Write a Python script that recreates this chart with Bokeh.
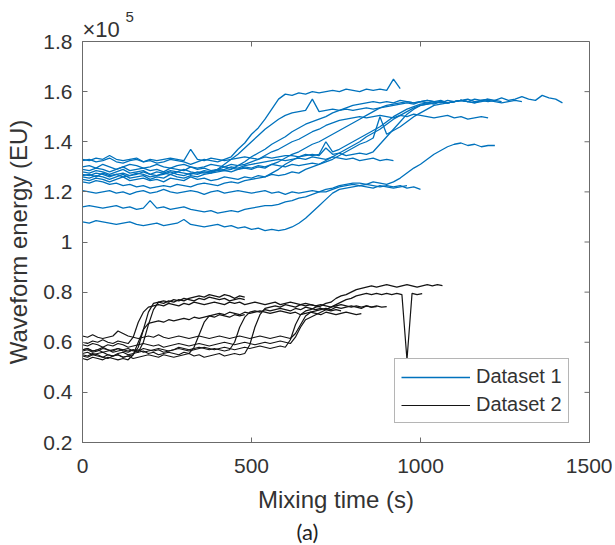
from bokeh.plotting import figure
from bokeh.models import Range1d, Title, Legend, LegendItem, FixedTicker
from bokeh.embed import file_html
from bokeh.resources import INLINE

# ---------------- data (values in units of 1e5 EU) ----------------
DT1 = 20   # sampling interval of dataset 1 (s)
DT2 = 15   # sampling interval of dataset 2 (s)

d1_a = [1.325,1.33,1.32,1.325,1.335,1.32,1.315,1.325,1.33,1.32,1.325,1.315,1.32,1.33,1.325,1.32,1.31,1.32,1.33,1.325,1.32,1.33,1.34,
        1.37,1.395,1.43,1.455,1.49,1.53,1.57,1.59,
        1.585,1.595,1.59,1.60,1.595,1.60,1.605,1.60,1.61,1.605,1.60,1.61,1.605,1.61,1.605,1.65,1.612]
d1_b = [1.26,1.255,1.265,1.26,1.25,1.26,1.27,1.255,1.26,1.265,1.25,1.26,1.255,1.27,1.26,1.255,1.265,1.26,1.27,1.275,
        1.29,1.31,1.33,1.35,1.375,1.40,1.425,1.45,1.47,1.49,1.505,1.515,
        1.52,1.525,1.57,1.52,1.525,1.53,1.525,1.53,1.525,1.53,1.535,1.53,1.535,1.54,1.545,1.55,1.555,1.55,1.56,1.555,1.56,1.565,1.555,1.56,1.565,1.56]
d1_c = [1.30,1.305,1.295,1.31,1.30,1.29,1.30,1.31,1.305,1.295,1.30,1.31,1.30,1.295,1.305,1.31,1.30,1.295,1.30,1.31,1.305,1.30,1.31,1.305,1.31,
        1.32,1.33,1.345,1.36,1.37,1.385,1.40,1.41,1.425,1.44,1.45,1.465,1.475,1.485,1.49,1.495,
        1.50,1.495,1.50,1.505,1.50,1.495,1.505,1.50,1.51,1.505,1.50,1.495,1.50,1.505,1.495,1.50,1.49,1.495,1.50,1.495]
d1_d = [1.28,1.275,1.285,1.28,1.27,1.28,1.29,1.275,1.28,1.285,1.27,1.28,1.275,1.285,1.28,1.29,1.28,1.275,1.285,1.28,1.29,1.285,1.28,1.29,1.295,1.29,1.30,1.295,
        1.31,1.32,1.335,1.35,1.36,1.375,1.39,1.40,1.415,1.43,1.445,1.46,1.475,1.49,1.505,1.52,1.535,1.545,
        1.55,1.555,1.56,1.555,1.56,1.565,1.56,1.555,1.565,1.56,1.565,1.57,1.56,1.565,1.57,1.565,1.575,1.565,1.57,1.58,1.57,1.565,1.585,1.575,1.57,1.555]
d1_e = [1.25,1.245,1.255,1.25,1.24,1.25,1.26,1.245,1.25,1.255,1.245,1.25,1.24,1.255,1.25,1.245,1.26,1.25,1.255,1.245,1.25,1.26,1.255,1.25,1.26,1.255,1.265,1.26,1.27,1.265,1.27,1.28,1.275,
        1.29,1.30,1.31,1.325,1.34,1.355,1.37,1.385,1.40,1.42,1.435,1.45,1.47,1.49,1.505,1.52,1.535,1.545,
        1.55,1.555,1.56,1.555,1.56,1.565,1.56,1.555,1.565,1.56,1.565,1.56]
d1_f = [1.33,1.325,1.335,1.33,1.345,1.33,1.325,1.33,1.335,1.32,1.33,1.325,1.33,1.335,1.33,1.325,1.37,1.33,1.325,1.335,1.33,1.325,1.33,1.335,1.34,1.335,1.33,1.34,1.335,1.34,1.345,
        1.345,1.34,1.35,1.345,1.35,1.40,1.36,1.37,1.385,1.40,1.415,1.43,1.445,1.46,1.48,1.50,1.515,1.53,1.54,1.55,
        1.555,1.55,1.56,1.555,1.56]
d1_g = [1.27,1.265,1.275,1.27,1.26,1.27,1.275,1.265,1.27,1.28,1.27,1.265,1.275,1.27,1.28,1.275,1.27,1.28,1.275,1.28,
        1.285,1.29,1.30,1.295,1.305,1.31,1.315,1.32,1.325,1.33,1.325,
        1.33,1.335,1.33,1.34,1.335,1.33,1.34,1.335,1.33,1.335,1.325,1.33,1.335,1.325,1.33,1.325]
d1_h = [1.29,1.285,1.295,1.29,1.28,1.29,1.30,1.285,1.29,1.295,1.285,1.29,1.28,1.295,1.29,1.285,1.30,1.29,1.295,1.285,1.29,1.30,1.295,1.29,1.30,1.295,1.305,1.30,1.31,1.305,1.30,1.31,1.305,1.31,1.315,1.31,
        1.32,1.33,1.345,1.36,1.375,1.39,1.40,1.415,1.50,1.43,1.445,1.46,1.48,1.50,1.515,1.53,1.545,
        1.55,1.555,1.56,1.565,1.56,1.57,1.565,1.57]
d1_i = [1.24,1.235,1.245,1.24,1.23,1.235,1.225,1.23,1.22,1.225,1.215,1.22,1.225,1.22,1.23,1.225,1.22,1.23,1.235,1.23,1.225,1.235,1.24,1.235,1.245,1.25,1.255,1.26,
        1.275,1.29,1.31,1.325,1.34,1.345,
        1.35,1.345,1.375,1.35,1.355,1.345,1.35,1.355,1.35,1.36,
        1.39,1.42,1.45,1.48,1.51,1.53,1.545,
        1.55,1.555,1.56,1.555,1.56,1.565,1.56,1.555,1.56,1.565,1.56,1.555,1.56,1.565,1.56]
d1_j = [1.205,1.20,1.195,1.20,1.205,1.195,1.20,1.19,1.20,1.205,1.195,1.20,1.21,1.20,1.195,1.20,1.205,1.20,1.19,1.20,1.205,1.195,1.20,1.205,1.20,1.195,1.20,1.205,1.195,1.20,1.19,1.20,1.195,1.20,1.205,1.20,1.20,
        1.21,1.22,1.225,1.23,1.225,1.23,1.225,1.22,1.225,1.22,1.225,1.215,1.22,1.21]
d1_k = [1.14,1.145,1.14,1.135,1.14,1.145,1.135,1.14,1.13,1.135,1.165,1.135,1.14,1.13,1.135,1.14,1.13,1.125,1.12,1.125,1.115,1.12,1.125,1.12,1.13,1.135,1.14,1.145,
        1.145,1.15,1.16,1.165,1.175,1.18,1.19,1.20,1.21,1.215,1.225,1.23,1.235,
        1.235,1.23,1.24,1.235,1.23,1.24,
        1.255,1.275,1.295,1.31,1.33,1.35,1.365,1.38,1.39,
        1.395,1.385,1.39,1.38,1.385,1.385]
d1_l = [1.08,1.075,1.085,1.08,1.075,1.07,1.075,1.08,1.07,1.065,1.07,1.075,1.065,1.07,1.075,1.09,1.07,1.065,1.06,1.065,1.07,1.06,1.065,1.055,1.06,1.05,1.055,1.045,1.05,1.045,1.05,
        1.06,1.075,1.095,1.12,1.145,1.17,1.195,1.21,
        1.215,1.22,1.225,1.22,1.215,1.225,1.22,1.215,1.22,1.225]
d1_m = [1.265,1.27,1.26,1.275,1.265,1.27,1.26,1.265,1.275,1.27,1.26,1.265,1.27,1.28,1.27,1.265,1.275,1.27,1.28,1.275,1.28,1.285,1.29,
        1.305,1.32,1.34,1.355,1.37,1.39,1.405,1.42,1.44,1.455,1.47,1.48,1.49,1.50,1.515,1.525,1.535,1.545,
        1.55,1.555,1.56,1.555,1.56,1.555,1.565,1.56,1.555,1.56,1.565,1.56]

d2_a = [0.55,0.545,0.555,0.55,0.54,0.55,0.545,0.55,0.54,0.545,0.55,
        0.58,0.65,0.72,0.755,
        0.76,0.755,0.765,0.76,0.77,0.765,0.775,0.78,0.785,0.78,0.79,0.785,0.78,0.79,0.785,0.775,0.785,0.78]
d2_b = [0.57,0.575,0.565,0.57,0.58,0.57,0.565,0.575,0.57,0.565,0.57,0.56,
        0.60,0.67,0.73,0.76,
        0.765,0.76,0.77,0.765,0.775,0.77,0.765,0.775,0.77,0.78,0.775,0.77,0.775,0.765,0.77,0.775,0.77]
d2_c = [0.535,0.53,0.54,0.535,0.53,0.54,0.535,0.53,0.535,0.53,
        0.55,0.60,0.65,0.675,
        0.68,0.685,0.68,0.69,0.685,0.69,0.695,0.69,0.70,0.695,0.70,0.705,0.70,0.71,0.705,0.70,0.71,0.705,0.71]
d2_d = [0.60,0.595,0.605,0.60,0.61,0.60,0.595,0.605,0.60,0.595,
        0.62,0.68,0.72,0.74,
        0.745,0.75,0.745,0.755,0.75,0.745,0.755,0.75,0.76,0.755,0.75,0.755,0.76,0.755,0.75,0.76,0.755,0.76,0.75,0.755,0.76,0.755,0.75,0.755,0.76,0.75,0.755,0.76,0.755,0.75,0.755,0.75,0.745,0.75,0.745,0.74,0.745,0.75,0.745,0.74,0.745,0.74,0.745,0.74,0.742]
d2_e = [0.555,0.56,0.55,0.555,0.56,0.55,0.545,0.555,0.56,0.55,0.555,0.56,0.565,0.555,0.56,0.55,0.555,0.56,0.555,0.55,0.56,0.555,
        0.58,0.63,0.68,0.705,
        0.71,0.715,0.71,0.72,0.715,0.71,0.72,0.715,0.72,0.725,0.72,0.715,0.72,0.725,0.72,0.715,0.72,0.71,0.715,0.72,0.715,0.71,0.72,0.715,0.71,0.715,0.72,0.715,0.71,0.714]
d2_f = [0.565,0.57,0.56,0.565,0.575,0.57,0.56,0.565,0.57,0.575,0.565,0.57,0.56,0.565,0.57,0.575,0.57,0.565,0.57,0.58,0.575,0.57,0.575,0.58,0.575,0.57,0.575,0.57,0.565,0.57,
        0.60,0.66,0.70,0.72,
        0.725,0.72,0.73,0.725,0.73,0.735,0.73,0.725,0.735,0.73,0.74,0.735,0.73,0.735,0.73,0.725,0.73,0.725]
d2_g = [0.545,0.54,0.55,0.545,0.54,0.535,0.545,0.55,0.54,0.545,0.535,0.54,0.545,0.55,0.545,0.54,0.55,0.545,0.54,0.545,0.55,0.555,0.545,0.55,0.54,0.545,0.55,0.555,0.545,0.55,0.555,0.55,0.555,
        0.59,0.66,0.71,0.735,
        0.74,0.745,0.74,0.75,0.745,0.74,0.75,0.745,0.75,0.745,0.74]
d2_h = [0.625,0.62,0.63,0.62,0.615,0.62,0.625,0.645,0.635,0.625,0.62,0.615,0.62,0.625,0.62,0.63,0.62,0.615,0.62,0.625,0.62,0.615,0.62,0.625,0.62,0.615,0.62,0.625,0.62,0.615,0.62,0.625,0.62,0.615,0.62,0.625,0.62,0.615,0.62,0.625,0.62,0.615,
        0.635,0.67,0.705,0.72,
        0.725,0.73,0.735,0.73,0.74,0.735,0.74,0.745,0.74,0.735,0.745,0.74,0.745,0.74,0.742]
d2_i = [0.57,0.575,0.565,0.57,0.56,0.565,0.57,0.575,0.565,0.56,0.57,0.565,0.575,0.57,0.565,0.57,0.56,0.565,0.57,0.575,0.57,0.565,0.57,0.575,0.58,0.575,0.57,0.575,0.58,0.575,0.57,0.575,0.58,0.575,0.58,0.585,0.58,0.575,0.58,0.585,0.58,
        0.61,0.67,0.71,0.725,
        0.73,0.74,0.745,0.755,0.76,0.775,0.785,0.79,0.80,0.81,0.815,0.82,0.825,
        0.82,0.825,0.83,0.825,0.82,0.825,0.83,0.825,0.82,0.825,0.83,0.825,0.83,0.826]
d2_j = [0.59,0.585,0.595,0.59,0.58,0.59,0.585,0.595,0.59,0.58,0.585,0.59,0.595,0.59,0.585,0.59,0.58,0.585,0.59,0.595,0.59,0.585,0.59,0.595,0.59,0.585,0.59,0.595,0.60,0.595,0.59,0.595,0.60,0.595,0.59,0.595,0.60,0.595,0.60,0.605,0.60,0.595,
        0.62,0.66,0.69,0.70,
        0.71,0.72,0.73,0.74,0.75,0.76,0.77,0.775,0.785,0.79,
        0.795,0.79,0.795,0.79,0.795,0.79,0.795,0.79,0.53,0.795,0.79,0.794]

dataset1 = [d1_a, d1_b, d1_c, d1_d, d1_e, d1_f, d1_g, d1_h, d1_i, d1_j, d1_k, d1_l, d1_m]
dataset2 = [d2_a, d2_b, d2_c, d2_d, d2_e, d2_f, d2_g, d2_h, d2_i, d2_j]

legend_labels = ["Dataset 1", "Dataset 2"]
x_ticks = [0, 500, 1000, 1500]
y_ticks = [0.2, 0.4, 0.6, 0.8, 1.0, 1.2, 1.4, 1.6, 1.8]
y_tick_labels = ["0.2", "0.4", "0.6", "0.8", "1", "1.2", "1.4", "1.6", "1.8"]
x_label = "Mixing time (s)"
y_label = "Waveform energy (EU)"
exponent_base = "\u00d710"
exponent_power = "5"
caption = "(a)"
X_MIN, X_MAX = 0, 1500
Y_MIN, Y_MAX = 0.2, 1.8

# ---------------- styling ----------------
FONT = "Liberation Sans"
AX_COL = "#6b6b6b"
TXT_COL = "#333333"
BLUE = "#0072BD"
BLACK = "#141414"
W, H = 612, 545
B_LEFT, B_RIGHT, B_TOP, B_BOTTOM = 82, 23, 41, 103
TICK_PX = 5

p = figure(width=W, height=H, x_range=Range1d(X_MIN, X_MAX), y_range=Range1d(Y_MIN, Y_MAX),
           output_backend="svg", toolbar_location=None,
           min_border_left=B_LEFT, min_border_right=B_RIGHT,
           min_border_top=B_TOP, min_border_bottom=B_BOTTOM)
p.grid.visible = False
p.outline_line_color = AX_COL
p.background_fill_color = "white"
p.border_fill_color = "white"

xs1 = [[i * DT1 for i in range(len(s))] for s in dataset1]
xs2 = [[i * DT2 for i in range(len(s))] for s in dataset2]
r1 = p.multi_line(xs1, dataset1, line_color=BLUE, line_width=1.3)
r2 = p.multi_line(xs2, dataset2, line_color=BLACK, line_width=1.2)

# inward ticks on the top and right edges of the box (MATLAB "box on")
frame_w = W - B_LEFT - B_RIGHT
frame_h = H - B_TOP - B_BOTTOM
dy = TICK_PX * (Y_MAX - Y_MIN) / frame_h
dx = TICK_PX * (X_MAX - X_MIN) / frame_w
p.segment(x0=x_ticks, y0=[Y_MAX] * len(x_ticks), x1=x_ticks, y1=[Y_MAX - dy] * len(x_ticks),
          line_color=AX_COL, line_width=1)
p.segment(x0=[X_MAX] * len(y_ticks), y0=y_ticks, x1=[X_MAX - dx] * len(y_ticks), y1=y_ticks,
          line_color=AX_COL, line_width=1)

def style_axis(ax):
    ax.axis_line_color = AX_COL
    ax.major_tick_line_color = AX_COL
    ax.major_tick_in = TICK_PX
    ax.major_tick_out = 0
    ax.minor_tick_line_color = None
    ax.major_label_text_font = FONT
    ax.major_label_text_color = TXT_COL
    ax.major_label_text_font_size = "21px"
    ax.axis_label_text_font = FONT
    ax.axis_label_text_font_style = "normal"
    ax.axis_label_text_color = TXT_COL
    ax.axis_label_text_font_size = "24px"

xax = p.xaxis[0]
yax = p.yaxis[0]
xax.ticker = FixedTicker(ticks=x_ticks)
yax.ticker = FixedTicker(ticks=y_ticks)
yax.major_label_overrides = dict(zip(y_ticks, y_tick_labels))
style_axis(xax)
style_axis(yax)
xax.axis_label = x_label
yax.axis_label = y_label
xax.major_label_standoff = 16
xax.axis_label_standoff = 10
yax.major_label_standoff = 10
yax.axis_label_standoff = 8

# exponent label above the y axis (base, then raised power) and the caption below
p.add_layout(Title(text=exponent_base, align="left", offset=0, standoff=0,
                   text_font=FONT, text_font_size="22px", text_font_style="normal",
                   text_color=TXT_COL), "above")
p.add_layout(Title(text=exponent_power, align="left", offset=43, standoff=-15,
                   text_font=FONT, text_font_size="15px", text_font_style="normal",
                   text_color=TXT_COL), "above")
p.add_layout(Title(text=caption, align="left", offset=214, standoff=0,
                   text_font="Lato", text_font_size="22px", text_font_style="normal",
                   text_color="#222222"), "below")

legend = Legend(items=[LegendItem(label=legend_labels[0], renderers=[r1]),
                       LegendItem(label=legend_labels[1], renderers=[r2])],
                location=(312, 19), label_text_font=FONT, label_text_font_size="20px",
                label_text_color=TXT_COL, glyph_width=69, glyph_height=20, padding=6,
                spacing=5, label_standoff=6, margin=0, border_line_color=AX_COL,
                background_fill_color="white", background_fill_alpha=1.0)
p.add_layout(legend)

open("out.html", "w").write(file_html(p, INLINE))
